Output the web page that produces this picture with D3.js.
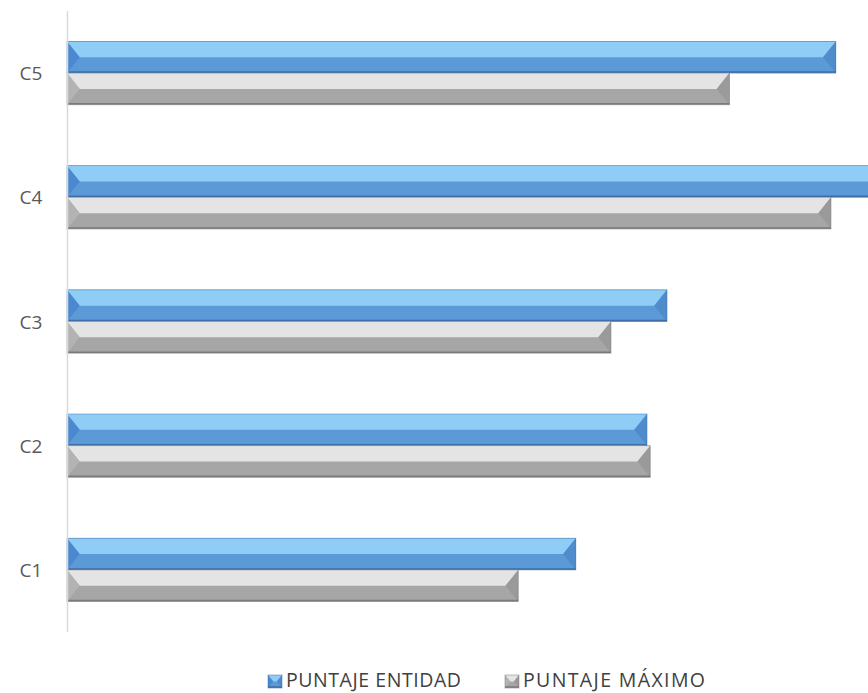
<!DOCTYPE html>
<html>
<head>
<meta charset="utf-8">
<script src="https://cdn.jsdelivr.net/npm/d3@7"></script>
<style>
  body { margin: 0; background: #fff; }
  svg { display: block; font-family: "Open Sans", "Noto Sans", sans-serif; }
</style>
</head>
<body>
<div id="chart"></div>
<script>
// categories bottom -> top (no axis in the original)
const categories = ["C1", "C2", "C3", "C4", "C5"];
const entidad = [63.6, 72.5, 75, 104, 96.1];   // PUNTAJE ENTIDAD
const maximo = [56.4, 72.9, 68, 95.5, 82.8];   // PUNTAJE MÁXIMO
const seriesNames = ["PUNTAJE ENTIDAD", "PUNTAJE MÁXIMO"];

const W = 868, H = 693;
const svg = d3.select("#chart").append("svg")
  .attr("width", W).attr("height", H);

// bevel colours per series
const styles = [
  { top: "#8fcdf7", bottom: "#5b9ad6", left: "#4a88d0", right: "#4f8ccc", edge: "#3d6ea6" },
  { top: "#e4e4e4", bottom: "#a6a6a6", left: "#b3b3b3", right: "#9a9a9a", edge: "#7a7a7a" }
];

const y = d3.scaleBand()
  .domain(categories.slice().reverse())
  .range([11, 632])
  .paddingInner(0.49)
  .paddingOuter(0.245);

const ySub = d3.scaleBand()
  .domain([0, 1])
  .range([0, y.bandwidth()]);

const x = d3.scaleLinear().domain([0, 100]).range([67, 867]);

const rows = categories.map((c, i) => ({ cat: c, vals: [entidad[i], maximo[i]] }));

// one bevelled bar
function bevelBar(g, x0, x1, y0, h, st) {
  const y1 = y0 + h, m = y0 + h / 2;
  const b = Math.min(h * 0.4, (x1 - x0) / 2);
  g.append("rect").attr("x", x0).attr("y", y0).attr("width", x1 - x0).attr("height", h)
    .attr("fill", st.bottom);
  g.append("polygon")
    .attr("points", [[x0, y0], [x1, y0], [x1 - b, m], [x0 + b, m]].join(" "))
    .attr("fill", st.top);
  g.append("polygon")
    .attr("points", [[x0, y0], [x0 + b, m], [x0, y1]].join(" "))
    .attr("fill", st.left);
  g.append("polygon")
    .attr("points", [[x1, y0], [x1, y1], [x1 - b, m]].join(" "))
    .attr("fill", st.right);
  g.append("rect").attr("x", x0).attr("y", y0).attr("width", x1 - x0).attr("height", h)
    .attr("fill", "none").attr("stroke", st.edge).attr("stroke-width", 0.8).attr("stroke-opacity", 0.6);
  g.append("line").attr("x1", x0).attr("x2", x1).attr("y1", y1 - 1).attr("y2", y1 - 1)
    .attr("stroke", st.edge).attr("stroke-width", 1.5);
}

const bars = svg.append("g");
rows.forEach(r => {
  r.vals.forEach((v, s) => {
    const g = bars.append("g");
    bevelBar(g, x(0), x(v), y(r.cat) + ySub(s), ySub.bandwidth(), styles[s]);
  });
});

// vertical axis line
svg.append("line")
  .attr("x1", 67.5).attr("x2", 67.5).attr("y1", 11).attr("y2", 632)
  .attr("stroke", "#d9d9d9").attr("stroke-width", 1.5);

// category labels
svg.append("g").selectAll("text")
  .data(categories)
  .join("text")
  .attr("x", 31)
  .attr("y", d => y(d) + y.bandwidth() / 2)
  .attr("text-anchor", "middle")
  .attr("dominant-baseline", "central")
  .attr("font-size", 19)
  .attr("fill", "#595959")
  .text(d => d);

// legend
const legend = svg.append("g");
const legX = [268, 505];
const legW = [175, 182];
seriesNames.forEach((name, s) => {
  const g = legend.append("g");
  bevelBar(g, legX[s], legX[s] + 14, 675, 13, styles[s]);
  g.append("text")
    .attr("x", legX[s] + 18)
    .attr("y", 687)
    .attr("font-size", 19.5)
    .attr("textLength", legW[s])
    .attr("lengthAdjust", "spacing")
    .attr("fill", "#404040")
    .text(name);
});
</script>
</body>
</html>
